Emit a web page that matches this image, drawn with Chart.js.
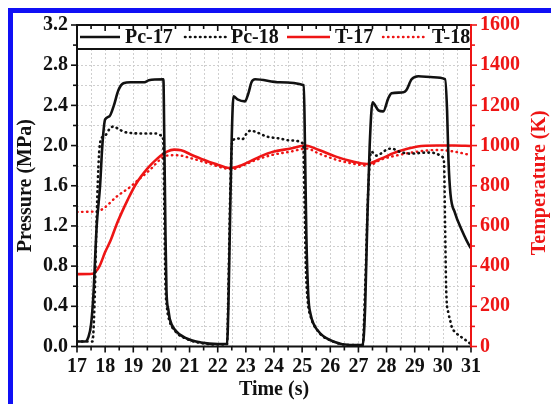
<!DOCTYPE html>
<html>
<head>
<meta charset="utf-8">
<script src="https://cdn.jsdelivr.net/npm/chart.js@4/dist/chart.umd.min.js"></script>
<style>
  html, body { margin: 0; padding: 0; background: #fff; }
  #wrap { width: 551px; height: 404px; position: relative; }
</style>
</head>
<body>
<div id="wrap"><canvas id="c" width="551" height="404"></canvas></div>
<script>
// Chamber pressure (MPa) against time (s)
const pc17Time = [17.0,17.3,17.4,17.5,17.58,17.7,17.82,17.9,18.0,18.15,18.3,18.47,18.65,18.9,19.4,19.55,20.07,20.1,20.14,20.18,20.25,20.3,20.5,20.9,21.4,22.0,22.33,22.38,22.44,22.5,22.56,22.7,22.97,23.09,23.2,23.33,24.2,25.06,25.1,25.15,25.22,25.3,25.4,25.64,26.1,26.7,27.15,27.24,27.32,27.4,27.5,27.71,27.88,28.06,28.18,28.6,28.7,28.89,29.13,29.66,30.08,30.15,30.2,30.27,30.43,30.67,30.97,31.0];
const pc17Value = [0.05,0.05,0.09,0.22,0.5,1.2,1.6,2.0,2.26,2.29,2.39,2.55,2.62,2.63,2.63,2.65,2.66,2.1,1.2,0.55,0.36,0.27,0.16,0.08,0.04,0.025,0.025,0.4,1.3,2.1,2.49,2.46,2.44,2.52,2.63,2.66,2.63,2.6,2.0,1.1,0.5,0.32,0.23,0.13,0.05,0.015,0.015,0.4,1.3,2.0,2.43,2.35,2.34,2.47,2.52,2.53,2.55,2.66,2.69,2.68,2.66,2.35,1.85,1.52,1.33,1.16,0.99,0.98];

const pc18Time = [17.0,17.55,17.62,17.7,17.78,17.85,18.0,18.17,18.3,18.5,18.77,19.4,19.8,20.0,20.06,20.1,20.14,20.2,20.27,20.5,20.9,21.4,22.0,22.33,22.38,22.45,22.52,22.73,22.86,23.03,23.17,23.4,23.74,24.2,24.6,25.04,25.08,25.13,25.2,25.3,25.6,26.1,26.7,27.15,27.24,27.34,27.45,27.65,27.85,28.0,28.18,28.45,28.83,29.43,29.78,29.96,30.04,30.08,30.12,30.2,30.26,30.31,30.49,30.73,30.97];
const pc18Value = [0.05,0.05,0.4,1.3,1.9,2.06,2.1,2.17,2.19,2.16,2.13,2.12,2.12,2.1,2.07,1.4,0.65,0.38,0.27,0.15,0.075,0.035,0.02,0.02,0.6,1.6,2.05,2.07,2.06,2.12,2.15,2.13,2.09,2.07,2.05,2.02,1.5,0.8,0.45,0.3,0.14,0.05,0.015,0.015,0.6,1.5,1.94,1.9,1.93,1.96,1.97,1.94,1.92,1.93,1.92,1.89,1.84,1.2,0.55,0.33,0.26,0.2,0.13,0.08,0.03];

// Temperature (K) against time (s)
const t17Time = [17.0,17.55,17.65,17.8,18.0,18.2,18.4,18.6,18.8,19.1,19.5,19.85,20.2,20.45,20.7,21.1,21.4,21.7,22.0,22.4,22.7,23.2,23.5,24.0,24.6,25.1,25.6,26.2,26.8,27.3,27.8,28.4,29.1,29.8,30.4,31.0];
const t17Value = [360,362,370,400,470,530,605,670,730,810,885,935,970,980,977,952,935,918,905,888,895,925,945,970,985,1000,978,945,920,908,935,970,995,1000,1000,998];

const t18Time = [17.0,17.7,17.95,18.4,18.9,19.1,19.6,19.95,20.2,20.55,21.1,21.7,22.3,22.5,22.8,23.3,23.9,24.6,25.15,25.6,26.2,26.8,27.35,27.8,28.4,29.1,29.8,30.4,31.0];
const t18Value = [670,672,688,745,795,820,880,930,950,952,935,910,885,882,895,925,952,970,985,960,930,910,900,930,952,970,978,970,952];

// Axis ticks
const timeTicks = [17,18,19,20,21,22,23,24,25,26,27,28,29,30,31];
const pressureTicks = [0.0,0.4,0.8,1.2,1.6,2.0,2.4,2.8,3.2];
const tempTicks = [0,200,400,600,800,1000,1200,1400,1600];

const seriesNames = ['Pc-17','Pc-18','T-17','T-18'];

const RED = '#ee1515';
const BLACK = '#111111';
const FONT = '"Liberation Serif", "Times New Roman", serif';

const pts = (xs, ys) => xs.map((x, i) => ({ x, y: ys[i] }));

const DOT = [0.5, 4.5];

const datasets = [
  { label: seriesNames[0], data: pts(pc17Time, pc17Value), yAxisID: 'y',
    borderColor: BLACK, borderWidth: 2.6 },
  { label: seriesNames[1], data: pts(pc18Time, pc18Value), yAxisID: 'y',
    borderColor: BLACK, borderWidth: 2.6, borderDash: DOT, borderCapStyle: 'round' },
  { label: seriesNames[2], data: pts(t17Time, t17Value), yAxisID: 'yT',
    borderColor: RED, borderWidth: 2.6 },
  { label: seriesNames[3], data: pts(t18Time, t18Value), yAxisID: 'yT',
    borderColor: RED, borderWidth: 2.4, borderDash: DOT, borderCapStyle: 'round' }
];

// Frame, grid, axis lines, tick marks, legend and axis titles
const decor = {
  id: 'decor',
  beforeDraw(chart) {
    const ctx = chart.ctx;
    ctx.save();
    ctx.fillStyle = '#ffffff';
    ctx.fillRect(0, 0, chart.width, chart.height);
    ctx.fillStyle = '#1010f5';
    ctx.fillRect(8, 8, chart.width - 8, 5);
    ctx.fillRect(8, 8, 5, chart.height - 8);
    ctx.restore();
  },
  beforeDatasetsDraw(chart) {
    const { ctx, chartArea: a, scales } = chart;
    const sx = scales.x, sy = scales.y;
    ctx.save();
    ctx.strokeStyle = '#cfcfcf';
    ctx.lineWidth = 1;
    ctx.setLineDash([2, 2]);
    for (let t = sx.min + 0.5; t < sx.max - 0.01; t += 0.5) {
      const px = Math.round(sx.getPixelForValue(t)) + 0.5;
      ctx.beginPath(); ctx.moveTo(px, a.top); ctx.lineTo(px, a.bottom); ctx.stroke();
    }
    for (let p = 0.2; p < sy.max - 0.01; p += 0.2) {
      const py = Math.round(sy.getPixelForValue(p)) + 0.5;
      ctx.beginPath(); ctx.moveTo(a.left, py); ctx.lineTo(a.right, py); ctx.stroke();
    }
    ctx.restore();
  },
  afterDatasetsDraw(chart) {
    const { ctx, chartArea: a, scales } = chart;
    const sx = scales.x, sy = scales.y, st = scales.yT;
    ctx.save();

    // legend strip along the top of the plot
    const legBottom = 49;
    ctx.fillStyle = '#ffffff';
    ctx.fillRect(a.left, a.top, a.right - a.left, legBottom - a.top);
    ctx.strokeStyle = BLACK;
    ctx.lineWidth = 2;
    ctx.beginPath(); ctx.moveTo(a.left, legBottom); ctx.lineTo(a.right, legBottom); ctx.stroke();

    const ly = 37;
    const items = [
      { x0: 80, x1: 120, tx: 125, ds: datasets[0] },
      { x0: 185, x1: 227, tx: 231, ds: datasets[1] },
      { x0: 287, x1: 330, tx: 335, ds: datasets[2] },
      { x0: 383, x1: 427, tx: 432, ds: datasets[3] }
    ];
    ctx.font = 'bold 20px ' + FONT;
    ctx.textBaseline = 'middle';
    ctx.textAlign = 'left';
    items.forEach(it => {
      ctx.strokeStyle = it.ds.borderColor;
      ctx.lineWidth = it.ds.borderWidth;
      ctx.lineCap = it.ds.borderDash ? 'round' : 'butt';
      ctx.setLineDash(it.ds.borderDash || []);
      ctx.beginPath(); ctx.moveTo(it.x0, ly); ctx.lineTo(it.x1, ly); ctx.stroke();
      ctx.setLineDash([]);
      ctx.fillStyle = BLACK;
      ctx.fillText(it.ds.label, it.tx, ly + 1);
    });
    ctx.lineCap = 'butt';

    // axis lines
    ctx.lineWidth = 2;
    ctx.strokeStyle = BLACK;
    ctx.beginPath();
    ctx.moveTo(a.left, a.top); ctx.lineTo(a.left, a.bottom);
    ctx.moveTo(a.left - 1, a.bottom); ctx.lineTo(a.right, a.bottom);
    ctx.moveTo(a.left - 1, a.top); ctx.lineTo(a.right, a.top);
    ctx.stroke();

    // time ticks: outward at the bottom, inward at the top
    ctx.lineWidth = 1.6;
    for (let t = sx.min; t <= sx.max + 0.001; t += 0.5) {
      const px = sx.getPixelForValue(t);
      const major = Math.abs(t - Math.round(t)) < 0.01;
      const len = major ? 6 : 4;
      ctx.beginPath();
      ctx.moveTo(px, a.bottom); ctx.lineTo(px, a.bottom + len);
      ctx.moveTo(px, a.top); ctx.lineTo(px, a.top + len);
      ctx.stroke();
    }
    // pressure ticks
    for (let p = 0; p <= sy.max + 0.001; p += 0.2) {
      const py = sy.getPixelForValue(p);
      const major = Math.abs(p / 0.4 - Math.round(p / 0.4)) < 0.01;
      const len = major ? 6 : 4;
      ctx.beginPath(); ctx.moveTo(a.left, py); ctx.lineTo(a.left - len, py); ctx.stroke();
    }

    // temperature axis in red
    ctx.strokeStyle = RED;
    ctx.lineWidth = 2;
    ctx.beginPath(); ctx.moveTo(a.right, a.top - 1); ctx.lineTo(a.right, a.bottom + 1); ctx.stroke();
    ctx.lineWidth = 1.6;
    for (let k = 0; k <= st.max; k += 100) {
      const py = st.getPixelForValue(k);
      const len = (k % 200 === 0) ? 6 : 4;
      ctx.beginPath(); ctx.moveTo(a.right, py); ctx.lineTo(a.right + len, py); ctx.stroke();
    }

    // axis titles
    ctx.font = 'bold 20px ' + FONT;
    ctx.textAlign = 'center';
    ctx.textBaseline = 'middle';
    ctx.fillStyle = BLACK;
    ctx.fillText('Time (s)', (a.left + a.right) / 2, 390);

    ctx.save();
    ctx.translate(26, (a.top + a.bottom) / 2);
    ctx.rotate(-Math.PI / 2);
    ctx.fillText('Pressure (MPa)', 0, 0);
    ctx.restore();

    ctx.save();
    ctx.fillStyle = RED;
    ctx.translate(540, (a.top + a.bottom) / 2 - 3);
    ctx.rotate(-Math.PI / 2);
    ctx.fillText('Temperature (K)', 0, 0);
    ctx.restore();

    ctx.restore();
  }
};

const tickFont = { family: FONT, size: 20, weight: 'bold' };

new Chart(document.getElementById('c'), {
  type: 'line',
  data: { datasets },
  options: {
    responsive: false,
    animation: false,
    devicePixelRatio: 1,
    layout: { padding: { top: 25, left: 0, right: 0, bottom: 0 } },
    elements: {
      point: { radius: 0, hoverRadius: 0 },
      line: { tension: 0, cubicInterpolationMode: 'monotone', fill: false }
    },
    plugins: { legend: { display: false }, tooltip: { enabled: false } },
    events: [],
    scales: {
      x: {
        type: 'linear',
        min: timeTicks[0], max: timeTicks[timeTicks.length - 1],
        afterBuildTicks: s => { s.ticks = timeTicks.map(v => ({ value: v })); },
        afterFit: s => { s.height = 57.5; },
        grid: { display: false, drawTicks: false },
        border: { display: false },
        ticks: { font: tickFont, color: BLACK, padding: 8, maxRotation: 0, autoSkip: false,
                 callback: v => String(v) }
      },
      y: {
        type: 'linear', position: 'left',
        min: pressureTicks[0], max: pressureTicks[pressureTicks.length - 1],
        afterBuildTicks: s => { s.ticks = pressureTicks.map(v => ({ value: v })); },
        afterFit: s => { s.width = 77; },
        grid: { display: false, drawTicks: false },
        border: { display: false },
        ticks: { font: tickFont, color: BLACK, padding: 9, callback: v => Number(v).toFixed(1) }
      },
      yT: {
        type: 'linear', position: 'right',
        min: tempTicks[0], max: tempTicks[tempTicks.length - 1],
        afterBuildTicks: s => { s.ticks = tempTicks.map(v => ({ value: v })); },
        afterFit: s => { s.width = 80; },
        grid: { display: false, drawTicks: false },
        border: { display: false },
        ticks: { font: tickFont, color: RED, padding: 9, callback: v => String(v) }
      }
    }
  },
  plugins: [decor]
});
</script>
</body>
</html>
